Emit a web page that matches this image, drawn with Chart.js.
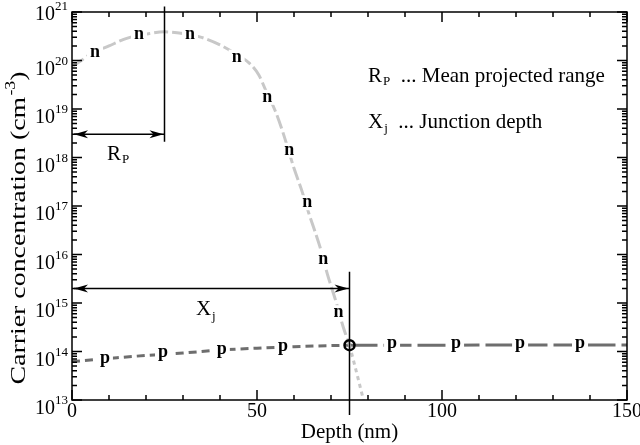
<!DOCTYPE html>
<html>
<head>
<meta charset="utf-8">
<script src="https://cdn.jsdelivr.net/npm/chart.js@4.4.1/dist/chart.umd.min.js"></script>
<style>
  html, body { margin: 0; padding: 0; background: #fff; }
</style>
</head>
<body>
<canvas id="chart" width="640" height="445"></canvas>
<script>
// electrons (n), implanted profile up to the junction
const nDepth = [0, 2.5, 5, 10, 15, 20, 25, 30, 35, 40, 45, 48, 50.5, 52.5, 55, 57, 60, 62, 64, 67, 69, 71.5, 73.3, 75];
const nConc = [7.4e19, 1.0e20, 1.35e20, 2.0e20, 2.9e20, 3.5e20, 3.9e20, 3.6e20, 3.0e20, 2.1e20, 1.26e20, 8.7e19, 5.0e19,
               2.3e19, 8.9e18, 3.3e18, 6.0e17, 2.2e17, 7.1e16, 1.45e16, 4.0e15, 9.8e14, 3.2e14, 1.35e14];
// electrons past the junction (dotted)
const nTailDepth = [75, 76.5, 78.3, 78.8];
const nTailConc = [1.35e14, 4.9e13, 1.4e13, 1.0e13];
// holes (p) in the n region and in the substrate
const pDepth = [0, 10, 20, 30, 40, 50, 60, 75];
const pConc = [6.2e13, 7.2e13, 8.3e13, 9.3e13, 1.07e14, 1.17e14, 1.26e14, 1.35e14];
const pBulkDepth = [75, 100, 125, 150];
const pBulkConc = [1.35e14, 1.35e14, 1.36e14, 1.36e14];
// junction point
const junctionDepth = [75];
const junctionConc = [1.35e14];

// "n" / "p" tags sitting on the curves
const nTagDepth = [6.2, 18.1, 31.9, 44.5, 52.8, 58.7, 63.6, 67.9, 72.0];
const nTagConc = [1.48e20, 3.4e20, 3.4e20, 1.17e20, 1.74e19, 1.41e18, 1.17e17, 7.9e15, 6.3e14];
const pTagDepth = [8.9, 24.6, 40.5, 57.0, 86.5, 103.8, 121.1, 137.3];
const pTagConc = [6.6e13, 8.5e13, 9.8e13, 1.17e14, 1.32e14, 1.32e14, 1.34e14, 1.36e14];

// Rp and Xj markers
const rpDepth = 25;
const rpLineConc = [1.3e21, 2.1e18];
const rpArrowConc = 3.0e18;
const xjDepth = 75;
const xjLineConc = [4.4e15, 4.9e12];
const xjArrowConc = 2.0e15;

// axes
const xMajorTicks = [0, 50, 100, 150];
const xMinorTicks = [10, 20, 30, 40, 60, 70, 80, 90, 110, 120, 130, 140];
const yDecades = [13, 14, 15, 16, 17, 18, 19, 20, 21];
const yMantissas = [2, 3, 4, 5, 6, 7, 8, 9];

const serif = '"Liberation Serif", "Times New Roman", serif';
const pts = (xs, ys) => xs.map((x, i) => ({ x: x, y: ys[i] }));


function subText(ctx, x, y, main, sub, rest, size, subDrop) {
    ctx.textAlign = "left";
    ctx.textBaseline = "alphabetic";
    ctx.font = size + "px " + serif;
    ctx.fillText(main, x, y);
    let w = ctx.measureText(main).width + 1;
    ctx.font = Math.round(size * 0.62) + "px " + serif;
    ctx.fillText(sub, x + w, y + subDrop);
    w += ctx.measureText(sub).width;
    if (rest) {
        ctx.font = size + "px " + serif;
        ctx.fillText(rest, x + w, y);
    }
}


function arrowHead(ctx, x, y, dir) {
    ctx.beginPath();
    ctx.moveTo(x, y);
    ctx.lineTo(x - dir * 14, y - 4);
    ctx.lineTo(x - dir * 10, y);
    ctx.lineTo(x - dir * 14, y + 4);
    ctx.closePath();
    ctx.fill();
}


function tag(ctx, txt, px, py) {
    ctx.font = "bold 18px " + serif;
    const m = ctx.measureText(txt);
    const asc = m.actualBoundingBoxAscent, desc = m.actualBoundingBoxDescent;
    const base = py + (asc - desc) / 2;
    ctx.fillStyle = "#fff";
    ctx.fillRect(px - m.width / 2 - 3, base - asc - 3, m.width + 6, asc + desc + 6);
    ctx.fillStyle = "#000";
    ctx.textAlign = "center";
    ctx.textBaseline = "alphabetic";
    ctx.fillText(txt, px, base);
}


const decorations = {
    id: "decorations",

    afterDatasetsDraw(chart) {
        const ctx = chart.ctx, x = chart.scales.x, y = chart.scales.y;
        ctx.save();

        nTagDepth.forEach((d, i) => tag(ctx, "n", x.getPixelForValue(d), y.getPixelForValue(nTagConc[i])));
        pTagDepth.forEach((d, i) => tag(ctx, "p", x.getPixelForValue(d), y.getPixelForValue(pTagConc[i])));

        ctx.strokeStyle = "#000";
        ctx.fillStyle = "#000";
        ctx.lineWidth = 1.5;

        // Rp
        const rx = x.getPixelForValue(rpDepth);
        ctx.beginPath();
        ctx.moveTo(rx, y.getPixelForValue(rpLineConc[0]));
        ctx.lineTo(rx, y.getPixelForValue(rpLineConc[1]));
        const ry = y.getPixelForValue(rpArrowConc);
        const x0 = x.getPixelForValue(0) + 2;
        ctx.moveTo(x0, ry);
        ctx.lineTo(rx, ry);
        ctx.stroke();
        arrowHead(ctx, x0, ry, -1);
        arrowHead(ctx, rx - 1, ry, 1);

        // Xj
        const jx = x.getPixelForValue(xjDepth);
        ctx.beginPath();
        ctx.moveTo(jx, y.getPixelForValue(xjLineConc[0]));
        ctx.lineTo(jx, y.getPixelForValue(xjLineConc[1]));
        const jy = y.getPixelForValue(xjArrowConc);
        ctx.moveTo(x0, jy);
        ctx.lineTo(jx, jy);
        ctx.stroke();
        arrowHead(ctx, x0, jy, -1);
        arrowHead(ctx, jx - 1, jy, 1);

        subText(ctx, x.getPixelForValue(9.46), y.getPixelForValue(8.9e17), "R", "P", "", 21, 3);
        subText(ctx, x.getPixelForValue(33.5), y.getPixelForValue(5.6e14), "X", "j", "", 21, 5);

        subText(ctx, x.getPixelForValue(80), y.getPixelForValue(3.6e19), "R", "P", "  ... Mean projected range", 21, 3);
        subText(ctx, x.getPixelForValue(80), y.getPixelForValue(4.06e18), "X", "j", "  ... Junction depth", 21, 4);

        ctx.restore();
    },

    afterDraw(chart) {
        const ctx = chart.ctx, x = chart.scales.x, y = chart.scales.y;
        const a = chart.chartArea;
        ctx.save();
        ctx.strokeStyle = "#000";
        ctx.lineWidth = 1.5;
        ctx.strokeRect(a.left, a.top, a.right - a.left, a.bottom - a.top);

        // inward ticks on all four sides
        ctx.beginPath();
        const xt = (v, len) => {
            const px = x.getPixelForValue(v);
            ctx.moveTo(px, a.bottom); ctx.lineTo(px, a.bottom - len);
            ctx.moveTo(px, a.top); ctx.lineTo(px, a.top + len);
        };
        const yt = (v, len) => {
            const py = y.getPixelForValue(v);
            ctx.moveTo(a.left, py); ctx.lineTo(a.left + len, py);
            ctx.moveTo(a.right, py); ctx.lineTo(a.right - len, py);
        };
        xMajorTicks.forEach(v => xt(v, 10));
        xMinorTicks.forEach(v => xt(v, 5));
        yDecades.forEach(e => yt(Math.pow(10, e), 10));
        yDecades.slice(0, -1).forEach(e => yMantissas.forEach(m => yt(m * Math.pow(10, e), 5)));
        ctx.stroke();

        // 10^n labels
        ctx.fillStyle = "#000";
        ctx.textBaseline = "alphabetic";
        yDecades.forEach(e => {
            let py = y.getPixelForValue(Math.pow(10, e));
            if (py - a.top < 4) py -= 6;
            ctx.font = "20px " + serif;
            ctx.textAlign = "right";
            ctx.fillText("10", 55, py + 14);
            ctx.font = "13px " + serif;
            ctx.textAlign = "left";
            ctx.fillText(String(e), 55, py + 4);
        });

        // y title with superscript
        ctx.translate(25, 228);
        ctx.rotate(-Math.PI / 2);
        const main = "Carrier concentration (cm", sup = "-3", end = ")";
        ctx.font = "22px " + serif;
        const w1 = ctx.measureText(main).width, w3 = ctx.measureText(end).width;
        ctx.font = "14px " + serif;
        const w2 = ctx.measureText(sup).width;
        const total = w1 + w2 + w3 + 1;
        ctx.scale(313 / total, 1);
        let cx = -total / 2;
        ctx.textAlign = "left";
        ctx.font = "22px " + serif;
        ctx.fillText(main, cx, 0);
        ctx.font = "14px " + serif;
        ctx.fillText(sup, cx + w1 + 1, -10);
        ctx.font = "22px " + serif;
        ctx.fillText(end, cx + w1 + w2 + 1, 0);
        ctx.restore();
    }
};


new Chart(document.getElementById("chart").getContext("2d"), {
    type: "line",
    data: {
        datasets: [
            {
                label: "junction",
                data: pts(junctionDepth, junctionConc),
                showLine: false,
                pointRadius: 5,
                pointBorderWidth: 2.5,
                pointBorderColor: "#000",
                pointBackgroundColor: "rgba(0,0,0,0)",
            },
            {
                label: "n",
                data: pts(nDepth, nConc),
                borderColor: "#c8c8c8",
                borderWidth: 3,
                borderDash: [14, 4],
                pointRadius: 0,
                cubicInterpolationMode: "monotone",
            },
            {
                label: "n tail",
                data: pts(nTailDepth, nTailConc),
                borderColor: "#c8c8c8",
                borderWidth: 3,
                borderDash: [4, 4],
                pointRadius: 0,
                cubicInterpolationMode: "monotone",
            },
            {
                label: "p",
                data: pts(pDepth, pConc),
                borderColor: "#6e6e6e",
                borderWidth: 3,
                borderDash: [8, 5],
                pointRadius: 0,
                cubicInterpolationMode: "monotone",
            },
            {
                label: "p bulk",
                data: pts(pBulkDepth, pBulkConc),
                borderColor: "#6e6e6e",
                borderWidth: 3,
                borderDash: [28, 6],
                pointRadius: 0,
            },
        ],
    },
    options: {
        responsive: false,
        animation: false,
        events: [],
        layout: { padding: { left: 0, top: 12, right: 13, bottom: 0 } },
        plugins: {
            legend: { display: false },
            tooltip: { enabled: false },
        },
        scales: {
            x: {
                type: "linear",
                min: 0,
                max: 150,
                grid: { display: false, drawTicks: false },
                border: { display: false },
                afterBuildTicks: s => { s.ticks = xMajorTicks.map(v => ({ value: v })); },
                ticks: { color: "#000", padding: 0, font: { family: serif, size: 20 } },
                title: {
                    display: true,
                    text: "Depth (nm)",
                    color: "#000",
                    padding: 0,
                    font: { family: serif, size: 21 },
                },
                afterFit: s => { s.height = 45; s.paddingLeft = 0; s.paddingRight = 0; },
            },
            y: {
                type: "logarithmic",
                min: 1e13,
                max: 1e21,
                grid: { display: false, drawTicks: false },
                border: { display: false },
                ticks: { display: false },
                afterFit: s => { s.width = 72; },
            },
        },
    },
    plugins: [decorations],
});
</script>
</body>
</html>
